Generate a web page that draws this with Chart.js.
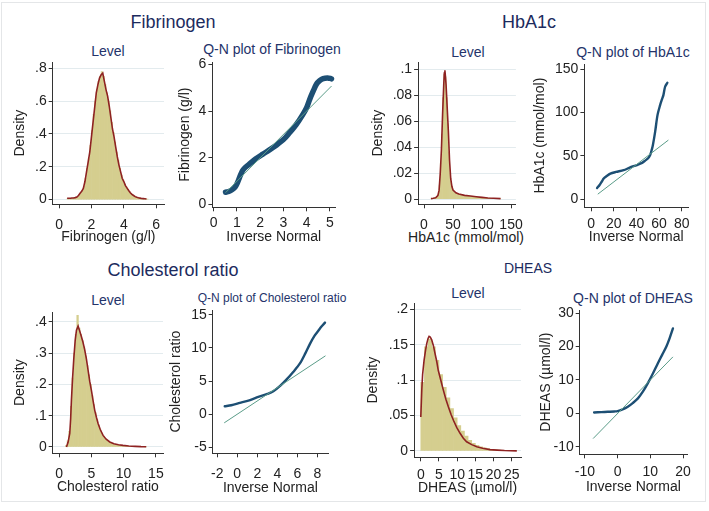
<!DOCTYPE html>
<html><head><meta charset="utf-8">
<script src="https://cdn.jsdelivr.net/npm/chart.js@4"></script>
<style>
body{margin:0;background:#fff;width:709px;height:511px;position:relative;overflow:hidden;font-family:"Liberation Sans",Arial,sans-serif;}
.t{position:absolute;transform:translate(-50%,-50%);white-space:nowrap;line-height:1;color:#24336a;}
.frame{position:absolute;left:1px;top:2px;width:705px;height:500px;border:1px solid #e4e6e8;box-sizing:border-box;}
canvas{position:absolute;}
</style></head><body>
<div class="frame"></div>
<div class="t" style="left:173px;top:22px;font-size:18px;color:#1c2b5e">Fibrinogen</div>
<div class="t" style="left:529px;top:22px;font-size:18px;color:#1c2b5e">HbA1c</div>
<div class="t" style="left:173px;top:270px;font-size:18px;color:#1c2b5e">Cholesterol ratio</div>
<div class="t" style="left:528px;top:268px;font-size:14px;color:#1c2b5e">DHEAS</div>
<div class="t" style="left:108px;top:51px;font-size:14px">Level</div>
<div class="t" style="left:272px;top:49px;font-size:14px">Q-N plot of Fibrinogen</div>
<div class="t" style="left:468px;top:52px;font-size:14px">Level</div>
<div class="t" style="left:633px;top:52px;font-size:14px">Q-N plot of HbA1c</div>
<div class="t" style="left:108px;top:300px;font-size:14px">Level</div>
<div class="t" style="left:272px;top:298px;font-size:12px">Q-N plot of Cholesterol ratio</div>
<div class="t" style="left:468px;top:293px;font-size:14px">Level</div>
<div class="t" style="left:633px;top:298px;font-size:14px">Q-N plot of DHEAS</div>
<div class="t" style="left:466px;top:237px;font-size:14px;color:#222">HbA1c (mmol/mol)</div>
<script>
// ---------------- DATA ----------------
// Fibrinogen (g/l)
const fibBinMid = [0.55,0.65,0.75,0.85,0.95,1.05,1.15,1.25,1.35,1.45,1.55,1.65,1.75,1.85,1.95,2.05,2.15,2.25,2.35,2.45,2.55,2.65,2.75,2.85,2.95,3.05,3.15,3.25,3.35,3.45,3.55,3.65,3.75,3.85,3.95,4.05,4.15,4.25,4.35,4.45,4.55,4.65,4.75,4.85,4.95,5.05,5.15,5.25,5.35,5.45];
const fibBinDensity = [0.006,0.006,0.008,0.008,0.01,0.012,0.016,0.026,0.04,0.055,0.08,0.13,0.19,0.25,0.33,0.42,0.52,0.6,0.67,0.72,0.75,0.78,0.75,0.7,0.65,0.6,0.54,0.47,0.41,0.35,0.29,0.24,0.19,0.15,0.12,0.095,0.078,0.062,0.048,0.037,0.028,0.021,0.016,0.012,0.01,0.008,0.006,0.005,0.004,0.003];
const fibKdeX = [0.5,0.6,0.7,0.8,0.9,1.0,1.1,1.2,1.3,1.4,1.5,1.6,1.7,1.8,1.9,2.0,2.1,2.2,2.3,2.4,2.5,2.6,2.7,2.8,2.9,3.0,3.1,3.2,3.3,3.4,3.5,3.6,3.7,3.8,3.9,4.0,4.1,4.2,4.3,4.4,4.5,4.6,4.7,4.8,4.9,5.0,5.1,5.2,5.3,5.4];
const fibKdeY = [0.008,0.008,0.008,0.01,0.01,0.012,0.015,0.025,0.038,0.05,0.068,0.11,0.17,0.23,0.29,0.38,0.47,0.56,0.65,0.70,0.74,0.76,0.77,0.72,0.67,0.63,0.57,0.50,0.43,0.38,0.32,0.26,0.21,0.17,0.13,0.11,0.085,0.07,0.055,0.042,0.032,0.025,0.018,0.014,0.011,0.009,0.007,0.006,0.005,0.004];
const fibQnX = [0.51,0.65,0.8,0.92,1.02,1.12,1.23,1.35,1.52,1.8,2.1,2.4,2.68,3.0,3.26,3.55,3.84,4.0,4.13,4.28,4.42,4.56,4.71,4.9,5.07];
const fibQnY = [0.53,0.56,0.64,0.75,0.93,1.18,1.43,1.58,1.72,1.95,2.15,2.34,2.53,2.78,3.07,3.42,3.86,4.15,4.5,4.85,5.15,5.3,5.39,5.42,5.38];
const fibRefX = [0.51,5.07], fibRefY = [0.51,5.07];
const fibHistXTicks = [0,2,4,6], fibHistYTicks = [0,0.2,0.4,0.6,0.8];
const fibQnXTicks = [0,1,2,3,4,5], fibQnYTicks = [0,2,4,6];

// HbA1c (mmol/mol)
const hbaBinMid = [13,15,17,19,21,23,25,27,29,31,33,35,37,39,41,43,45,47,49,51,53,55,57,59,61,63,65,67,69,71,73,75,77,79,81,83,85,87,89,91,93,95,97,99,101,103,105,107,109,111,113,115,117,119,121,123,125,127,129,131];
const hbaBinDensity = [0.0005,0.0005,0.001,0.001,0.0015,0.002,0.004,0.011,0.028,0.05,0.078,0.096,0.094,0.078,0.058,0.036,0.02,0.011,0.008,0.006,0.005,0.0045,0.004,0.0038,0.0035,0.0033,0.003,0.003,0.0028,0.0027,0.0025,0.0025,0.0023,0.0022,0.002,0.002,0.0019,0.0018,0.0017,0.0016,0.0015,0.0015,0.0014,0.0013,0.0012,0.0012,0.0011,0.001,0.001,0.0009,0.0009,0.0008,0.0008,0.0007,0.0007,0.0006,0.0006,0.0005,0.0005,0.0005];
const hbaKdeX = [12,16,20,22,24,26,28,30,32,34,35,36,37,38,40,42,44,46,48,50,55,60,70,80,90,100,110,120,132];
const hbaKdeY = [0.0005,0.0008,0.0012,0.002,0.003,0.007,0.02,0.038,0.065,0.088,0.097,0.099,0.094,0.088,0.07,0.052,0.03,0.016,0.01,0.007,0.005,0.004,0.003,0.0025,0.002,0.0015,0.001,0.0008,0.0005];
const hbaQnX = [5.3,7.5,9.5,11.1,13.5,17,22,28.7,34,40.4,45,47.7,50.5,52.1,53.5,54.5,56.5,58.6,60.9,62.5,63.8,65.3,67.3];
const hbaQnY = [13,16.5,20.5,23.9,26.5,29.6,31.5,33.5,36.5,39.5,42,44.5,47.5,51,57,62.3,77.7,96.9,108.5,115,120,129.6,134.2];
const hbaRefX = [5.9,68.2], hbaRefY = [5.9,68.2];
const hbaHistXTicks = [0,50,100,150], hbaHistYTicks = [0,0.02,0.04,0.06,0.08,0.1];
const hbaQnXTicks = [0,20,40,60,80], hbaQnYTicks = [0,50,100,150];

// Cholesterol ratio
const cholBinMid = [1.125,1.375,1.625,1.875,2.125,2.375,2.625,2.875,3.125,3.375,3.625,3.875,4.125,4.375,4.625,4.875,5.125,5.375,5.625,5.875,6.125,6.375,6.625,6.875,7.125,7.375,7.625,7.875,8.125,8.375,8.625,8.875,9.125,9.375,9.625,9.875,10.125,10.375,10.625,10.875,11.125,11.375,11.625,11.875,12.125,12.375,12.625,12.875,13.125,13.375];
const cholBinDensity = [0.005,0.02,0.05,0.13,0.22,0.30,0.36,0.42,0.38,0.36,0.34,0.32,0.29,0.26,0.23,0.20,0.165,0.135,0.11,0.088,0.07,0.055,0.044,0.035,0.028,0.022,0.018,0.015,0.012,0.01,0.008,0.007,0.006,0.005,0.0045,0.004,0.0035,0.003,0.0025,0.002,0.002,0.0018,0.0015,0.0012,0.001,0.001,0.0008,0.0007,0.0006,0.0005];
const cholKdeX = [1.15,1.4,1.66,1.8,1.92,2.1,2.28,2.5,2.7,2.95,3.2,3.47,3.7,3.98,4.25,4.5,4.75,5.02,5.25,5.53,5.8,6.05,6.4,6.82,7.3,7.86,8.5,9.2,9.9,10.8,11.8,12.7,13.5];
const cholKdeY = [0.0,0.015,0.043,0.09,0.15,0.22,0.28,0.34,0.373,0.386,0.37,0.352,0.335,0.31,0.28,0.245,0.21,0.18,0.15,0.117,0.094,0.075,0.055,0.037,0.025,0.016,0.01,0.007,0.005,0.003,0.002,0.001,0.0005];
const cholQnX = [-1.25,-0.6,0.25,1.2,2.1,3.0,3.6,4.3,4.9,5.6,6.25,6.8,7.25,7.7,8.1,8.4,8.75];
const cholQnY = [1.2,1.35,1.7,2.1,2.6,3.05,3.45,4.3,5.2,6.4,7.65,9.2,10.6,11.8,12.6,13.2,13.8];
const cholRefX = [-1.3,8.8], cholRefY = [-1.3,8.8];
const cholHistXTicks = [0,5,10,15], cholHistYTicks = [0,0.1,0.2,0.3,0.4];
const cholQnXTicks = [-2,0,2,4,6,8], cholQnYTicks = [-5,0,5,10,15];

// DHEAS (µmol/l)
const dheBinMid = [0.5,1.5,2.5,3.5,4.5,5.5,6.5,7.5,8.5,9.5,10.5,11.5,12.5,13.5,14.5,15.5,16.5,17.5,18.5,19.5,20.5,21.5,22.5,23.5,24.5,25.5];
const dheBinDensity = [0.097,0.147,0.158,0.147,0.128,0.108,0.09,0.075,0.06,0.047,0.036,0.028,0.021,0.015,0.011,0.008,0.006,0.0045,0.0035,0.0025,0.0018,0.0013,0.0009,0.0006,0.0004,0.0003];
const dheKdeX = [0,0.27,0.5,0.9,1.3,1.65,2.0,2.28,2.6,3.0,3.5,3.9,4.4,4.8,5.5,6.2,6.9,7.6,8.3,9,9.9,10.8,11.7,12.6,14,15.4,17,19,21,23,26.4];
const dheKdeY = [0.048,0.086,0.108,0.128,0.142,0.152,0.159,0.162,0.161,0.157,0.148,0.138,0.126,0.114,0.1,0.086,0.073,0.062,0.052,0.043,0.033,0.025,0.018,0.013,0.009,0.006,0.004,0.002,0.0012,0.0006,0.0002];
const dheQnX = [-7.2,-5,-3,-1,0,1.5,3.1,4.6,6.2,7.7,9.2,10.7,12.3,13.6,14.9,15.9,16.9];
const dheQnY = [0.3,0.4,0.5,0.6,0.7,1.2,2,3.1,4.5,6.5,9,11.8,15,17.5,20,22.5,25.4];
const dheRefX = [-7.5,16.9], dheRefY = [-7.5,16.9];
const dheHistXTicks = [0,5,10,15,20,25], dheHistYTicks = [0,0.05,0.1,0.15,0.2];
const dheQnXTicks = [-10,0,10,20], dheQnYTicks = [-10,0,10,20,30];

// ---------------- DRAWING ----------------
const FONT = "'Liberation Sans', Arial, sans-serif";
Chart.defaults.font.family = FONT;
const BAR = '#d5ce8f', KDE = '#8e2222', QN = '#1d4f74', REF = '#5a9c88', INK = '#222';
const pts = (xs, ys) => xs.map((x, i) => ({x: x, y: ys[i]}));
const fmt = v => { const s = String(+(+v).toFixed(4)); return s.replace(/^0\./, '.').replace(/^-0\./, '-.'); };

function panel(g, datasets, kind) {
  const pt = 14, pr = 16;
  const c = document.createElement('canvas');
  const w = Math.round(g.Wy + (g.R - g.L) + pr), h = Math.round(pt + (g.B - g.T) + g.Hx);
  c.width = w; c.height = h;
  c.style.left = (g.L - g.Wy) + 'px'; c.style.top = (g.T - pt) + 'px';
  c.style.width = w + 'px'; c.style.height = h + 'px';
  document.body.appendChild(c);
  const axisCommon = (ticksArr, isX) => ({
    type: 'linear', offset: false,
    afterBuildTicks: s => { s.ticks = ticksArr.map(v => ({value: v})); },
    afterFit: s => { if (isX) s.height = g.Hx; else s.width = g.Wy; },
    border: {display: true, color: '#333', width: 1},
    grid: {display: true, offset: false, drawOnChartArea: (!isX && kind === 'hist'), drawTicks: true, tickLength: 4, tickColor: '#333', color: '#e3ebee', lineWidth: 1},
    ticks: {padding: isX ? g.xPad : 2, color: INK, font: {size: 14, lineHeight: 1}, maxRotation: 0, minRotation: 0, autoSkip: false, callback: v => fmt(v)},
    title: {display: !(isX && g.noXTitle), text: isX ? g.xTitle : g.yTitle, color: INK, font: {size: 14}, padding: 0}
  });
  const xs = axisCommon(g.xTicks, true); xs.min = g.xmin; xs.max = g.xmax;
  const ys = axisCommon(g.yTicks, false); ys.min = g.ymin; ys.max = g.ymax;
  new Chart(c, {
    type: kind === 'hist' ? 'bar' : 'scatter',
    data: {datasets: datasets},
    options: {
      responsive: false, animation: false, devicePixelRatio: 1,
      layout: {padding: {top: pt, right: pr, left: 0, bottom: 0}},
      plugins: {legend: {display: false}, tooltip: {enabled: false}, title: {display: false}},
      scales: {x: xs, y: ys}
    }
  });
}

function histSets(binMid, binDen, kx, ky) {
  return [
    {type: 'line', data: pts(kx, ky), borderColor: KDE, borderWidth: 1.6, pointRadius: 0, tension: 0, fill: false},
    {type: 'bar', data: pts(binMid, binDen), backgroundColor: BAR, borderWidth: 0, barPercentage: 1, categoryPercentage: 1}
  ];
}
function qnSets(qx, qy, rx, ry, w) {
  return [
    {data: pts(rx, ry), showLine: true, borderColor: REF, borderWidth: 1, pointRadius: 0},
    {data: pts(qx, qy), showLine: true, borderColor: QN, backgroundColor: QN, borderWidth: w, borderCapStyle: 'round', borderJoinStyle: 'round', pointRadius: 0, tension: 0.3}
  ];
}

panel({L:53,T:62,R:164,B:204,xmin:-0.39,xmax:6.48,ymin:-0.0287,ymax:0.838,Wy:40.7,Hx:41.7,xPad:9.5,xTicks:fibHistXTicks,yTicks:fibHistYTicks,xTitle:'Fibrinogen (g/l)',yTitle:'Density'},
  histSets(fibBinMid, fibBinDensity, fibKdeX, fibKdeY), 'hist');
panel({L:212,T:62,R:335,B:207,xmin:-0.056,xmax:5.22,ymin:-0.116,ymax:6.1,Wy:35.4,Hx:38.7,xPad:5.3,xTicks:fibQnXTicks,yTicks:fibQnYTicks,xTitle:'Inverse Normal',yTitle:'Fibrinogen (g/l)'},
  qnSets(fibQnX, fibQnY, fibRefX, fibRefY, 5.5), 'qn');
panel({L:418,T:62,R:517,B:204,xmin:-10.2,xmax:158.4,ymin:-0.00385,ymax:0.1054,Wy:48.1,Hx:41.7,xPad:9.5,xTicks:hbaHistXTicks,yTicks:hbaHistYTicks,xTitle:'HbA1c (mmol/mol)',noXTitle:true,yTitle:'Density'},
  histSets(hbaBinMid, hbaBinDensity, hbaKdeX, hbaKdeY), 'hist');
panel({L:584,T:64,R:688,B:207,xmin:-5.9,xmax:85.5,ymin:-9.2,ymax:155.8,Wy:52.4,Hx:38.7,xPad:5.5,xTicks:hbaQnXTicks,yTicks:hbaQnYTicks,xTitle:'Inverse Normal',yTitle:'HbA1c (mmol/mol)'},
  qnSets(hbaQnX, hbaQnY, hbaRefX, hbaRefY, 2.4), 'qn');
panel({L:53,T:312,R:163,B:453,xmin:-0.98,xmax:16.1,ymin:-0.0202,ymax:0.431,Wy:40.7,Hx:42.7,xPad:10,xTicks:cholHistXTicks,yTicks:cholHistYTicks,xTitle:'Cholesterol ratio',yTitle:'Density'},
  histSets(cholBinMid, cholBinDensity, cholKdeX, cholKdeY), 'hist');
panel({L:213,T:310,R:328,B:453,xmin:-2.45,xmax:9.05,ymin:-5.89,ymax:15.7,Wy:44.7,Hx:43.7,xPad:10,xTicks:cholQnXTicks,yTicks:cholQnYTicks,xTitle:'Inverse Normal',yTitle:'Cholesterol ratio'},
  qnSets(cholQnX, cholQnY, cholRefX, cholRefY, 2.4), 'qn');
panel({L:414,T:303,R:521,B:457,xmin:-1.84,xmax:27.55,ymin:-0.0089,ymax:0.209,Wy:49.1,Hx:39.7,xPad:6.5,xTicks:dheHistXTicks,yTicks:dheHistYTicks,xTitle:'DHEAS (µmol/l)',yTitle:'Density'},
  histSets(dheBinMid, dheBinDensity, dheKdeX, dheKdeY), 'hist');
panel({L:580,T:310,R:687,B:454,xmin:-11.6,xmax:21.2,ymin:-12.2,ymax:30.9,Wy:41.7,Hx:41.7,xPad:6.8,xTicks:dheQnXTicks,yTicks:dheQnYTicks,xTitle:'Inverse Normal',yTitle:'DHEAS (µmol/l)'},
  qnSets(dheQnX, dheQnY, dheRefX, dheRefY, 2.4), 'qn');
</script>
</body></html>
